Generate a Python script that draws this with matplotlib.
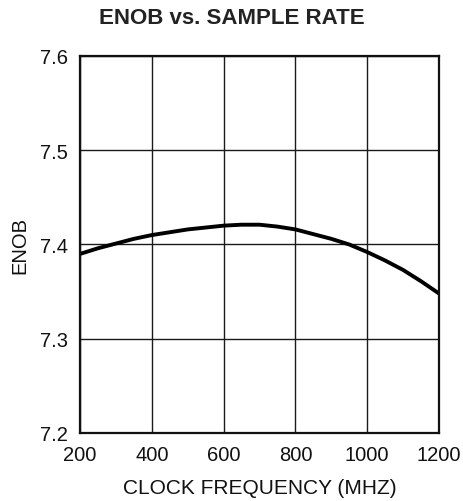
import numpy as np
import matplotlib.pyplot as plt

# ENOB vs. sample rate
clock_mhz = [200, 250, 300, 350, 400, 450, 500, 550, 600, 650, 700, 750,
             800, 850, 900, 950, 1000, 1050, 1100, 1150, 1200]
enob = [7.390, 7.396, 7.401, 7.406, 7.410, 7.413, 7.416, 7.418, 7.420, 7.421, 7.421, 7.419,
        7.416, 7.411, 7.406, 7.400, 7.392, 7.383, 7.373, 7.361, 7.348]

x_ticks = [200, 400, 600, 800, 1000, 1200]
y_ticks = [7.2, 7.3, 7.4, 7.5, 7.6]

plt.rcParams["font.family"] = ["Liberation Sans", "DejaVu Sans"]

fig = plt.figure(figsize=(4.64, 5.02), dpi=100)
ax = fig.add_axes([80 / 464, 1 - 434 / 502, 359 / 464, 377 / 502])

ax.plot(clock_mhz, enob, color="black", lw=2.8, solid_capstyle="butt",
        solid_joinstyle="round")

ax.set_xlim(200, 1200)
ax.set_ylim(7.2, 7.6)
ax.set_xticks(x_ticks)
ax.set_yticks(y_ticks)
ax.set_xticklabels([str(v) for v in x_ticks])
ax.set_yticklabels([f"{v:.1f}" for v in y_ticks])
ax.tick_params(length=0, labelsize=14.5, colors="#111111")
ax.tick_params(axis="y", pad=8.6)
ax.tick_params(axis="x", pad=9)

ax.grid(True, color="#1a1a1a", lw=1.0)
for sp in ax.spines.values():
    sp.set_linewidth(1.6)
    sp.set_color("#111111")

ax.set_xlabel("CLOCK FREQUENCY (MHZ)", fontsize=15, color="#111111", labelpad=10)
ax.set_ylabel("ENOB", fontsize=14.5, color="#111111", labelpad=8)
fig.text(0.5, 1 - 19 / 502, "ENOB vs. SAMPLE RATE", ha="center", va="center",
         fontsize=16, fontweight="bold", color="#222222")

fig.savefig("out.png", dpi=100)
